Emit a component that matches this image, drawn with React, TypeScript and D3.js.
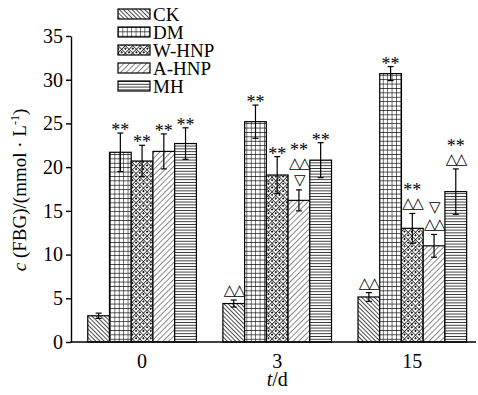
import React, { useEffect, useRef } from 'react';
import * as d3 from 'd3';

const days = ['0', '3', '15'];
const groups = ['CK', 'DM', 'W-HNP', 'A-HNP', 'MH'];
const yTicks = [0, 5, 10, 15, 20, 25, 30, 35];

const ckMean = [3.0, 4.4, 5.15];
const ckErr = [0.3, 0.4, 0.5];
const dmMean = [21.7, 25.2, 30.7];
const dmErr = [2.2, 1.9, 0.8];
const wMean = [20.7, 19.1, 13.0];
const wErr = [1.8, 2.1, 1.7];
const aMean = [21.8, 16.2, 11.0];
const aErr = [2.0, 1.2, 1.3];
const mhMean = [22.7, 20.8, 17.2];
const mhErr = [1.8, 2.0, 2.6];

// significance marks, lines listed top to bottom
const ckMarks = [[], ['△△'], ['△△']];
const dmMarks = [['**'], ['**'], ['**']];
const wMarks = [['**'], ['**'], ['**', '△△']];
const aMarks = [['**'], ['**', '△△', '▽'], ['▽', '△△']];
const mhMarks = [['**'], ['**'], ['**', '△△']];

const means = [ckMean, dmMean, wMean, aMean, mhMean];
const errs = [ckErr, dmErr, wErr, aErr, mhErr];
const marks = [ckMarks, dmMarks, wMarks, aMarks, mhMarks];

const App = () => {
  const svgRef = useRef<SVGSVGElement>(null);

  useEffect(() => {
    const width = 478;
    const height = 395;
    const margin = { top: 36, left: 71, bottom: 53 };
    const serif = '"Liberation Serif", "Times New Roman", Times, serif';

    const svg = d3.select(svgRef.current)
      .attr('width', width)
      .attr('height', height)
      .style('background', '#ffffff');
    svg.selectAll('*').remove();

    // hatch patterns
    const defs = svg.append('defs');
    const addLines = (id: string, size: number, angle: number, sw: number) => {
      const p = defs.append('pattern')
        .attr('id', id)
        .attr('patternUnits', 'userSpaceOnUse')
        .attr('width', size)
        .attr('height', size)
        .attr('patternTransform', `rotate(${angle})`);
      p.append('rect').attr('width', size).attr('height', size).attr('fill', '#fff');
      p.append('line')
        .attr('x1', 0).attr('y1', 0).attr('x2', 0).attr('y2', size)
        .attr('stroke', '#000').attr('stroke-width', sw);
      return p;
    };
    addLines('p-ck', 3, -45, 1.4);
    addLines('p-a', 4, 45, 0.9);
    addLines('p-mh', 2.8, 90, 1.5);

    const grid = defs.append('pattern')
      .attr('id', 'p-dm')
      .attr('patternUnits', 'userSpaceOnUse')
      .attr('width', 4.4).attr('height', 4.4);
    grid.append('rect').attr('width', 4.4).attr('height', 4.4).attr('fill', '#fff');
    grid.append('path').attr('d', 'M0,0V4.4M0,0H4.4')
      .attr('stroke', '#000').attr('stroke-width', 1.1);

    const cross = defs.append('pattern')
      .attr('id', 'p-w')
      .attr('patternUnits', 'userSpaceOnUse')
      .attr('width', 5.2).attr('height', 5.2)
      .attr('patternTransform', 'rotate(45)');
    cross.append('rect').attr('width', 5.2).attr('height', 5.2).attr('fill', '#fff');
    cross.append('path').attr('d', 'M0,0V5.2M0,0H5.2')
      .attr('stroke', '#000').attr('stroke-width', 1.4);
    cross.append('circle').attr('cx', 2.6).attr('cy', 2.6).attr('r', 1)
      .attr('fill', '#000');

    const fills = ['url(#p-ck)', 'url(#p-dm)', 'url(#p-w)', 'url(#p-a)', 'url(#p-mh)'];

    const x0 = d3.scaleBand()
      .domain(days)
      .range([margin.left, 483.4])
      .paddingInner(0.196)
      .paddingOuter(0.124);

    const x1 = d3.scaleBand()
      .domain(groups)
      .range([0, x0.bandwidth()]);

    const y = d3.scaleLinear()
      .domain([0, 35])
      .range([height - margin.bottom, margin.top]);

    // bars
    groups.forEach((g, gi) => {
      days.forEach((d, di) => {
        const bx = (x0(d) as number) + (x1(g) as number);
        const v = means[gi][di];
        svg.append('rect')
          .attr('x', bx)
          .attr('y', y(v))
          .attr('width', x1.bandwidth())
          .attr('height', y(0) - y(v))
          .attr('fill', fills[gi])
          .attr('stroke', '#000')
          .attr('stroke-width', 1.2);
      });
    });

    // error bars
    groups.forEach((g, gi) => {
      days.forEach((d, di) => {
        const cx = (x0(d) as number) + (x1(g) as number) + x1.bandwidth() / 2;
        const v = means[gi][di];
        const e = errs[gi][di];
        const eg = svg.append('g').attr('stroke', '#000').attr('stroke-width', 1.2);
        eg.append('line').attr('x1', cx).attr('x2', cx).attr('y1', y(v - e)).attr('y2', y(v + e));
        [v - e, v + e].forEach(t => {
          eg.append('line').attr('x1', cx - 3).attr('x2', cx + 3).attr('y1', y(t)).attr('y2', y(t));
        });

        // significance marks stacked above the error bar
        const lines = marks[gi][di];
        let cy = y(v + e);
        lines.slice().reverse().forEach((s, k) => {
          const tri = s !== '**';
          cy -= k === 0 ? (tri ? 10 : 7) : 17;
          if (tri) {
            svg.append('text')
              .attr('x', cx)
              .attr('y', cy)
              .attr('text-anchor', 'middle')
              .attr('dominant-baseline', 'central')
              .style('font-family', '"DejaVu Sans", sans-serif')
              .style('font-size', '15px')
              .style('letter-spacing', '-1.5px')
              .text(s);
          } else {
            svg.append('text')
              .attr('x', cx)
              .attr('y', cy + 10)
              .attr('text-anchor', 'middle')
              .style('font-family', serif)
              .style('font-size', '18px')
              .text(s);
          }
        });
      });
    });

    // y axis
    const yAxis = svg.append('g')
      .attr('transform', `translate(${margin.left},0)`)
      .call(d3.axisLeft(y).tickValues(yTicks).tickSize(5).tickSizeOuter(0).tickPadding(3));
    yAxis.selectAll('text').style('font-family', serif).style('font-size', '20px');
    yAxis.selectAll('line, path').attr('stroke-width', 1.4);

    // x axis
    const xAxis = svg.append('g')
      .attr('transform', `translate(0,${y(0)})`)
      .call(d3.axisBottom(x0).tickSize(0).tickPadding(12));
    xAxis.select('.domain').remove();
    xAxis.selectAll('text').style('font-family', serif).style('font-size', '20px');
    svg.append('line')
      .attr('x1', margin.left - 0.7).attr('x2', width - 2)
      .attr('y1', y(0)).attr('y2', y(0))
      .attr('stroke', '#000').attr('stroke-width', 1.4);

    // axis titles
    const xt = svg.append('text')
      .attr('x', x0('3') as number + x0.bandwidth() / 2)
      .attr('y', 386)
      .attr('text-anchor', 'middle')
      .style('font-family', serif)
      .style('font-size', '20px');
    xt.append('tspan').style('font-style', 'italic').text('t');
    xt.append('tspan').text('/d');

    const yt = svg.append('text')
      .attr('transform', 'translate(26,190) rotate(-90)')
      .attr('text-anchor', 'middle')
      .style('font-family', serif)
      .style('font-size', '19px');
    yt.append('tspan').style('font-style', 'italic').text('c');
    yt.append('tspan').text(' (FBG)/(mmol · L');
    yt.append('tspan').attr('dy', -7).style('font-size', '12px').text('-1');
    yt.append('tspan').attr('dy', 7).text(')');

    // legend
    const legend = svg.append('g').attr('transform', 'translate(118,9)');
    groups.forEach((g, gi) => {
      const row = legend.append('g').attr('transform', `translate(0,${gi * 18})`);
      row.append('rect')
        .attr('width', 32).attr('height', 10)
        .attr('fill', fills[gi])
        .attr('stroke', '#000').attr('stroke-width', 1.2);
      row.append('text')
        .attr('x', 35).attr('y', 11.5)
        .style('font-family', serif)
        .style('font-size', '19px')
        .text(g);
    });
  }, []);

  return (
    <svg ref={svgRef} style={{ position: 'absolute', left: 0, top: 0 }}></svg>
  );
};

export default App;
